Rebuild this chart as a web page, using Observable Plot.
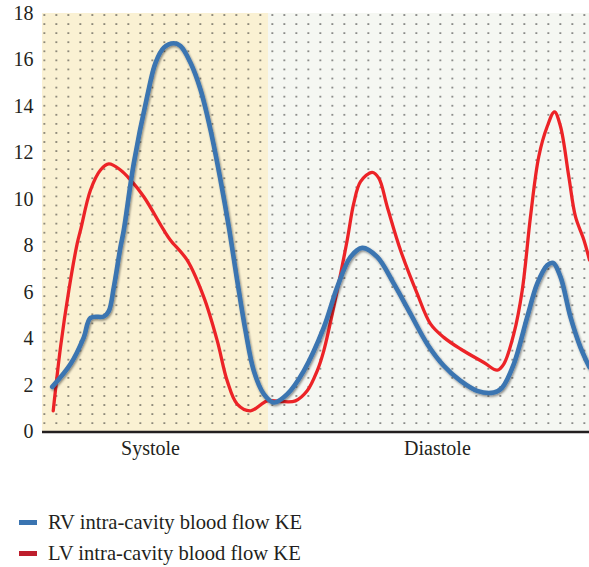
<!DOCTYPE html>
<html><head><meta charset="utf-8">
<script src="https://cdn.jsdelivr.net/npm/d3@7"></script>
<script src="https://cdn.jsdelivr.net/npm/@observablehq/plot@0.6"></script>
<style>
body{margin:0;background:#fff;font-family:"Liberation Serif","Times New Roman",serif;color:#231f20;}
#chart svg{display:block;}
#legend{margin-top:37px;}
.row{display:flex;align-items:center;height:31px;font-size:20.6px;font-family:"Liberation Serif",serif;}
.sw{width:18px;height:5px;margin-left:19px;margin-right:11px;}
</style></head><body>
<div id="chart"></div>
<div id="legend"></div>
<script>
// time as % of displayed cardiac cycle
const rvTime = [1.77,5.12,7.55,8.78,11.21,12.12,13.04,14.26,14.86,16.69,19.14,20.66,22.18,24.0,25.23,27.06,28.88,30.71,32.54,34.06,35.59,37.11,38.63,40.46,42.29,44.74,47.77,51.43,53.88,56.31,58.45,61.19,64.22,67.28,70.33,73.36,76.42,79.47,82.5,84.04,86.16,88.61,90.44,92.27,93.36,94.7,96.53,98.35,100];
const rvKE = [1.94,2.92,4.07,4.91,4.97,5.2,6.23,7.96,8.68,11.56,14.44,15.88,16.53,16.72,16.6,15.88,14.73,13.0,10.84,8.82,6.52,4.36,2.63,1.63,1.27,1.63,2.63,4.5,6.23,7.53,7.92,7.53,6.38,5.08,3.79,2.85,2.2,1.77,1.7,1.91,2.92,4.94,6.38,7.17,7.27,6.67,4.94,3.64,2.78];
const lvTime = [1.96,3.29,4.81,6.34,6.95,8.78,10.6,12.12,14.26,16.09,18.52,22.18,23.4,26.45,29.49,31.94,33.77,35.59,38.03,41.08,43.51,46.25,48.39,50.22,51.43,53.88,55.7,56.91,58.14,60.27,61.48,63.02,65.45,68.5,70.93,73.36,76.42,80.68,83.13,84.33,86.16,87.7,89.21,90.73,92.27,93.6,94.7,96.22,97.44,98.99,100];
const lvKE = [0.91,3.64,6.09,8.1,8.68,10.41,11.27,11.53,11.27,10.84,10.12,8.68,8.25,7.39,5.8,3.93,2.2,1.2,0.91,1.34,1.31,1.34,1.77,2.63,3.5,6.09,8.25,9.84,10.77,11.17,10.92,9.69,7.82,5.95,4.65,4.07,3.57,2.99,2.66,2.92,4.22,6.09,9.26,11.85,13.14,13.77,13.14,10.98,9.26,8.25,7.39];

const phaseNames = ["Systole","Diastole"];
const phaseStart = [0, 41.32];
const phaseEnd = [41.32, 100];
const phaseLabelPos = [19.74, 72.2];
const yTicks = [0,2,4,6,8,10,12,14,16,18];
const seriesNames = ["RV intra-cavity blood flow KE","LV intra-cavity blood flow KE"];

const blue = "#3a74b1", red = "#ec2327";
const legendColors = ["#3a74b1", "#be1e2d"];
const phaseColors = ["#faf1d3", "#f5f7f2"];
const serif = "Liberation Serif, serif";

const rv = rvTime.map((t,i)=>({t, v: rvKE[i]}));
const lv = lvTime.map((t,i)=>({t, v: lvKE[i]}));
const phases = phaseNames.map((n,i)=>({name:n, start:phaseStart[i], end:phaseEnd[i], fill:phaseColors[i], pos:phaseLabelPos[i]}));
const xDomain = [0,100], yDomain = [0,18];

const plot = Plot.plot({
  width: 589, height: 470,
  marginTop: 13, marginBottom: 38.5, marginLeft: 42, marginRight: 0,
  style: {fontFamily: serif, fontSize: "20px", color: "#231f20", background: "transparent", overflow: "visible"},
  x: {domain: xDomain, axis: null},
  y: {domain: yDomain, axis: null},
  marks: [
    Plot.rect(phases, {x1: "start", x2: "end", y1: yDomain[0], y2: yDomain[1], fill: "fill"}),
    Plot.rect([xDomain], {x1: d=>d[0], x2: d=>d[1], y1: yDomain[0], y2: yDomain[1], fill: "url(#dotgrid)"}),
    Plot.axisY({ticks: yTicks, tickSize: 0, tickPadding: 9, label: null, fontFamily: serif, fontSize: 20, fill: "#231f20"}),
    Plot.ruleY([0], {stroke: "#231f20", strokeWidth: 2.5}),
    Plot.text(phases, {x: "pos", y: yDomain[0], text: "name", dy: 17, fill: "#231f20", fontSize: 20, fontFamily: serif}),
    Plot.line(lv, {x: "t", y: "v", stroke: red, strokeWidth: 3.3, curve: "catmull-rom"}),
    Plot.line(rv, {x: "t", y: "v", stroke: blue, strokeWidth: 4.6, curve: "catmull-rom"})
  ]
});
document.getElementById("chart").appendChild(plot);

// texture and shadow definitions
const svg = d3.select(plot);
const defs = svg.insert("defs", ":first-child");
const pat = defs.append("pattern").attr("id","dotgrid").attr("patternUnits","userSpaceOnUse")
  .attr("width",12).attr("height",9.07).attr("x",38.3).attr("y",10.47);
pat.append("rect").attr("x",5.4).attr("y",3.9).attr("width",1.3).attr("height",1.3).attr("fill","#1a1a1a");
const f = defs.append("filter").attr("id","shadow").attr("x","-10%").attr("y","-10%").attr("width","120%").attr("height","120%");
f.append("feDropShadow").attr("dx",1).attr("dy",1.5).attr("stdDeviation",1.3).attr("flood-color","#000").attr("flood-opacity",0.45);
svg.selectAll('g[aria-label="line"]').filter(function(){return this.getAttribute("stroke")===blue;}).attr("filter","url(#shadow)");

const lg = d3.select("#legend");
seriesNames.forEach((n,i)=>{
  const r = lg.append("div").attr("class","row");
  r.append("div").attr("class","sw").style("background", legendColors[i]);
  r.append("span").text(n);
});
</script>
</body></html>
